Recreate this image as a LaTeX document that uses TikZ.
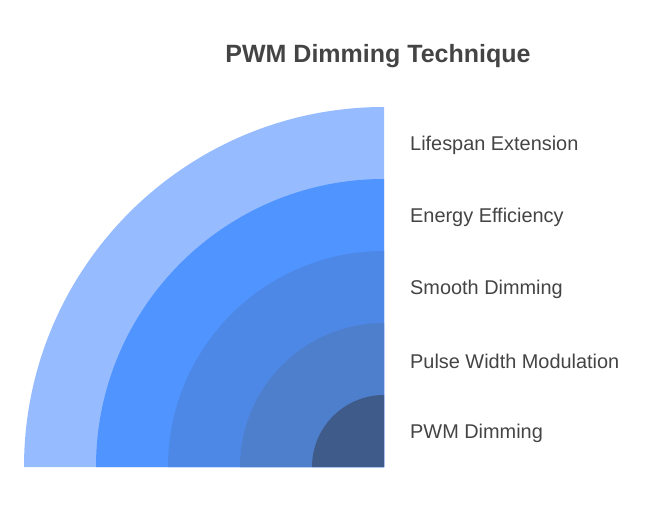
\documentclass[tikz,border=0pt]{standalone}
\usepackage{fontspec}
\setmainfont{Liberation Sans}
\definecolor{c1}{HTML}{96BBFF}
\definecolor{c2}{HTML}{4F94FF}
\definecolor{c3}{HTML}{4D88E6}
\definecolor{c4}{HTML}{4E7FCC}
\definecolor{c5}{HTML}{3F5B8A}
\definecolor{txt}{HTML}{444444}
\begin{document}
\begin{tikzpicture}[x=1pt,y=1pt,
  lbl/.style={anchor=west,text=txt,font=\fontsize{19.9}{22}\selectfont,inner sep=0pt}]
\useasboundingbox (0,0) rectangle (648,517);
\coordinate (o) at (384,50);
\foreach \r/\c in {360/c1,288/c2,216/c3,144/c4,72/c5}{
  \fill[\c] (o) -- ++(-\r,0) arc[start angle=180,end angle=90,radius=\r] -- cycle;
}
\node[text=txt,font=\bfseries\fontsize{25}{28}\selectfont] (title) at (378,461) {PWM Dimming Technique};
\node[lbl] (l1) at (410,372) {Lifespan Extension};
\node[lbl] (l2) at (410,300) {Energy Efficiency};
\node[lbl] (l3) at (410,228) {Smooth Dimming};
\node[lbl] (l4) at (410,156) {Pulse Width Modulation};
\node[lbl] (l5) at (410,84) {PWM Dimming};
\end{tikzpicture}
\end{document}
